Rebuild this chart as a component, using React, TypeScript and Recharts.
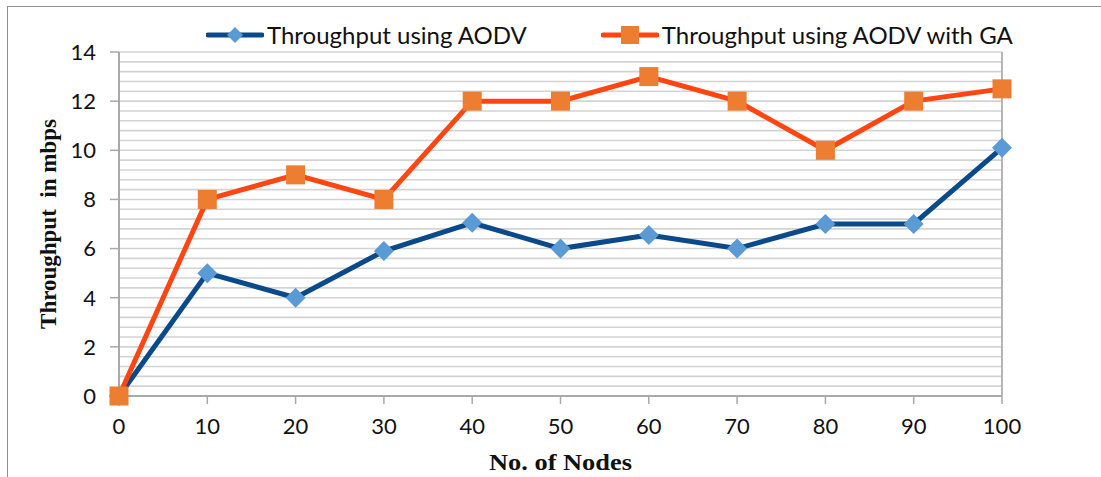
import React from "react";
import {
  LineChart,
  Line,
  XAxis,
  YAxis,
  CartesianGrid,
  ReferenceLine,
} from "recharts";

const nodes = [0, 10, 20, 30, 40, 50, 60, 70, 80, 90, 100];
const aodv = [0, 5, 4, 5.9, 7.05, 6, 6.55, 6, 7, 7, 10.1];
const aodvGa = [0, 8, 9, 8, 12, 12, 13, 12, 10, 12, 12.5];
const yTicks = [0, 2, 4, 6, 8, 10, 12, 14];
const xTicks = [0, 10, 20, 30, 40, 50, 60, 70, 80, 90, 100];
// light minor gridlines every 0.4
const gridValues = Array.from({ length: 36 }, (_, i) => +(i * 0.4).toFixed(1));

const AODV_LINE = "#0B4A8A";
const AODV_MARK = "#5B9BD5";
const GA_LINE = "#FF4511";
const GA_MARK = "#ED7D31";
const FONT = "Lato, 'Open Sans', sans-serif";
const SERIF = "'Liberation Serif', 'Times New Roman', serif";

const data = nodes.map((n, i) => ({ nodes: n, aodv: aodv[i], ga: aodvGa[i] }));

function Diamond(props: any) {
  const { cx, cy, index } = props;
  if (cx == null || cy == null) return null;
  const r = 10;
  return (
    <polygon
      key={`d-${index}`}
      points={`${cx},${cy - r} ${cx + r},${cy} ${cx},${cy + r} ${cx - r},${cy}`}
      fill={AODV_MARK}
    />
  );
}

function Square(props: any) {
  const { cx, cy, index } = props;
  if (cx == null || cy == null) return null;
  const h = 9.5;
  return <rect key={`s-${index}`} x={cx - h} y={cy - h} width={h * 2} height={h * 2} fill={GA_MARK} />;
}

function LegendBox() {
  const item = (label: string, line: string, mark: "d" | "s", mr: number) => (
    <div style={{ display: "flex", alignItems: "center", marginRight: mr }}>
      <svg width={58} height={20}>
        <line x1={2} y1={10} x2={56} y2={10} stroke={line} strokeWidth={5} strokeLinecap="round" />
        {mark === "d" ? (
          <polygon points="29,2 37,10 29,18 21,10" fill={AODV_MARK} />
        ) : (
          <rect x={20} y={1} width={18} height={18} fill={GA_MARK} />
        )}
      </svg>
      <span style={{ marginLeft: 3 }}>{label}</span>
    </div>
  );
  return (
    <div
      style={{
        position: "absolute",
        left: 206,
        top: 20,
        display: "flex",
        alignItems: "center",
        fontFamily: FONT,
        fontSize: 24,
        lineHeight: "30px",
        color: "#111",
        whiteSpace: "nowrap",
      }}
    >
      {item("Throughput using AODV", AODV_LINE, "d", 74)}
      {item("Throughput using AODV with GA", GA_LINE, "s", 0)}
    </div>
  );
}

export default function App() {
  return (
    <div
      style={{
        position: "absolute",
        left: 0,
        top: 0,
        width: 1101,
        height: 477,
        overflow: "hidden",
        background: "#fff",
      }}
    >
      <div
        style={{
          position: "absolute",
          left: 7,
          top: 6,
          width: 1200,
          height: 600,
          borderLeft: "1.5px solid #8f8f8f",
          borderTop: "1.5px solid #8f8f8f",
        }}
      />
      <LineChart
        width={1101}
        height={477}
        data={data}
        margin={{ top: 52, right: 99, bottom: 51, left: 0 }}
        style={{ position: "absolute", left: 0, top: 0 }}
      >
        <CartesianGrid
          vertical={false}
          horizontalValues={gridValues}
          stroke="#d3d3d3"
          strokeWidth={1.6}
        />
        <XAxis
          dataKey="nodes"
          type="number"
          domain={[0, 100]}
          ticks={xTicks}
          interval={0}
          height={30}
          tickSize={8}
          tickMargin={14}
          axisLine={{ stroke: "#a9a9a9", strokeWidth: 2 }}
          tickLine={{ stroke: "#a9a9a9", strokeWidth: 1.5 }}
          tick={{ fill: "#111", fontSize: 22, fontFamily: FONT }}
          label={{
            content: (p: any) => (
              <text
                x={p.viewBox.x + p.viewBox.width / 2}
                y={p.viewBox.y + 74}
                textAnchor="middle"
                fontFamily={SERIF}
                fontWeight="bold"
                fontSize={23}
                textLength={143}
                lengthAdjust="spacingAndGlyphs"
                fill="#111"
              >
                No. of Nodes
              </text>
            ),
          }}
        />
        <YAxis
          type="number"
          domain={[0, 14]}
          ticks={yTicks}
          interval={0}
          width={119}
          tickSize={9}
          tickMargin={14}
          axisLine={{ stroke: "#a9a9a9", strokeWidth: 2 }}
          tickLine={{ stroke: "#a9a9a9", strokeWidth: 1.5 }}
          tick={{ fill: "#111", fontSize: 22, fontFamily: FONT }}
          label={{
            content: (p: any) => {
              const x = p.viewBox.x + 48;
              const y = p.viewBox.y + p.viewBox.height / 2;
              return (
                <text
                  x={x}
                  y={y}
                  transform={`rotate(-90 ${x} ${y})`}
                  textAnchor="middle"
                  dominantBaseline="central"
                  fontFamily={SERIF}
                  fontWeight="bold"
                  fontSize={23}
                  xmlSpace="preserve"
                  style={{ whiteSpace: "pre" }}
                  fill="#111"
                >
                  Throughput  in mbps
                </text>
              );
            },
          }}
        />
        <ReferenceLine x={100} stroke="#b5b5b5" strokeWidth={2} />
        <Line
          type="linear"
          dataKey="aodv"
          stroke={AODV_LINE}
          strokeWidth={5}
          dot={<Diamond />}
          activeDot={false}
          isAnimationActive={false}
        />
        <Line
          type="linear"
          dataKey="ga"
          stroke={GA_LINE}
          strokeWidth={5}
          dot={<Square />}
          activeDot={false}
          isAnimationActive={false}
        />
      </LineChart>
      <LegendBox />
    </div>
  );
}
